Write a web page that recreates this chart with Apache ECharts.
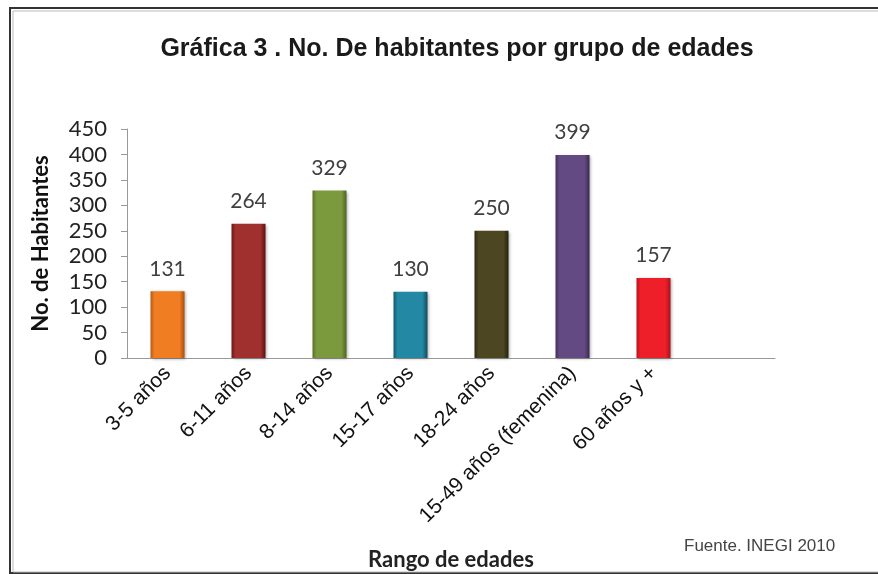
<!DOCTYPE html>
<html>
<head>
<meta charset="utf-8">
<script src="https://cdn.jsdelivr.net/npm/echarts@6/dist/echarts.min.js"></script>
<style>
html,body{margin:0;padding:0;background:#fff;}
#c{width:878px;height:574px;}
</style>
</head>
<body>
<div id="c"></div>
<script>
var categories = ['3-5 años', '6-11 años', '8-14 años', '15-17 años', '18-24 años', '15-49 años (femenina)', '60 años y +', ''];
var values = [131, 264, 329, 130, 250, 399, 157];
var barColors = [
  ['#B85A12', '#F07D22', '#A9500F'],
  ['#6E1818', '#A0302E', '#5E1010'],
  ['#5A7228', '#7B9A3D', '#4E6422'],
  ['#135A6E', '#2388A3', '#0F4D5E'],
  ['#2E2A10', '#4C4622', '#25220C'],
  ['#432F5C', '#644A82', '#3A2852'],
  ['#B8141C', '#EE1F28', '#A8121A']
];
var yTicks = {min: 0, max: 450, interval: 50};

var chart = echarts.init(document.getElementById('c'));
var data = values.map(function (v, i) {
  var c = barColors[i];
  return {
    value: v,
    itemStyle: {
      color: {
        type: 'linear', x: 0, y: 0, x2: 1, y2: 0,
        colorStops: [
          {offset: 0, color: c[0]},
          {offset: 0.12, color: c[1]},
          {offset: 0.85, color: c[1]},
          {offset: 1, color: c[2]}
        ]
      }
    }
  };
});

chart.setOption({
  animation: false,
  backgroundColor: '#fff',
  title: {
    text: 'Gráfica 3 . No. De habitantes por grupo de edades',
    left: 452, top: 32, textAlign: 'center',
    textStyle: {fontFamily: 'Liberation Sans, Arial', fontWeight: 'bold', fontSize: 25, color: '#1a1a1a'}
  },
  graphic: [
    {type: 'rect', shape: {x: 10, y: 8, width: 900, height: 565}, style: {fill: 'none', stroke: '#333', lineWidth: 2}, z: 100},
    {type: 'rect', shape: {x: 13, y: 11, width: 900, height: 561}, style: {fill: 'none', stroke: '#bbb', lineWidth: 1}, z: 100},
    {type: 'text', left: 684, top: 538, style: {text: 'Fuente. INEGI 2010', font: '17px "Liberation Sans", Arial', fill: '#444'}}
  ],
  grid: {left: 127, right: 103, top: 129, bottom: 216, containLabel: false},
  xAxis: {
    type: 'category',
    data: categories,
    name: 'Rango de edades',
    nameLocation: 'middle',
    nameGap: 191,
    nameTextStyle: {fontFamily: 'Lato, "Open Sans"', fontWeight: 'bold', fontSize: 22, color: '#222'},
    axisLine: {lineStyle: {color: '#999', width: 1}},
    axisTick: {show: false},
    axisLabel: {rotate: 45, fontFamily: 'Liberation Sans, Arial', fontSize: 21, color: '#111', margin: 12, interval: 0}
  },
  yAxis: {
    type: 'value',
    min: yTicks.min, max: yTicks.max, interval: yTicks.interval,
    name: 'No. de Habitantes',
    nameLocation: 'middle',
    nameGap: 75,
    nameTextStyle: {fontFamily: 'Lato, "Open Sans"', fontWeight: 'bold', fontSize: 22, color: '#111'},
    axisLine: {show: true, lineStyle: {color: '#999'}},
    axisTick: {show: true, length: 6, lineStyle: {color: '#999'}},
    splitLine: {show: false},
    axisLabel: {fontFamily: 'Lato, "Open Sans"', fontSize: 22, color: '#222', margin: 20}
  },
  series: [{
    type: 'bar',
    data: data,
    barWidth: 34,
    itemStyle: {shadowColor: 'rgba(0,0,0,0.35)', shadowBlur: 3, shadowOffsetX: 1, shadowOffsetY: 1},
    label: {show: true, position: 'top', distance: 12, fontFamily: 'Lato, "Open Sans"', fontSize: 21, color: '#404040'}
  }]
});
</script>
</body>
</html>
